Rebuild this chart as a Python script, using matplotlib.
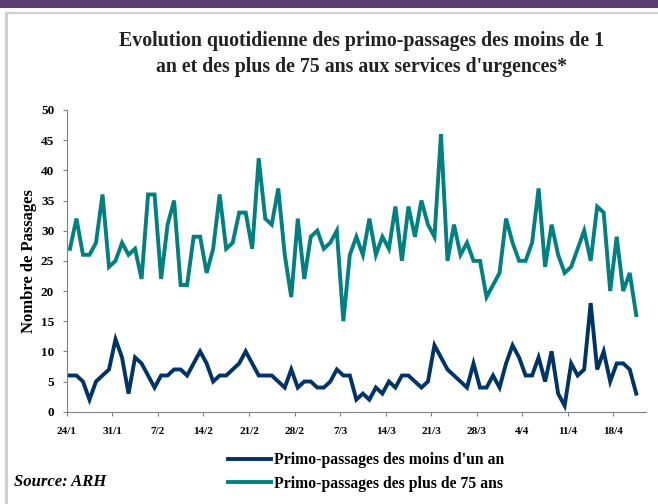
import matplotlib.pyplot as plt
from matplotlib.lines import Line2D
from matplotlib.patches import Rectangle

# jours depuis le 24/1 (88 jours)
moins_1an = [6, 6, 5, 2, 5, 6, 7, 12, 9, 3, 9, 8, 6, 4, 6, 6, 7, 7,
             6, 8, 10, 8, 5, 6, 6, 7, 8, 10, 8, 6, 6, 6, 5, 4, 7, 4,
             5, 5, 4, 4, 5, 7, 6, 6, 2, 3, 2, 4, 3, 5, 4, 6, 6, 5,
             4, 5, 11, 9, 7, 6, 5, 4, 8, 4, 4, 6, 4, 8, 11, 9, 6, 6,
             9, 5, 10, 3, 1, 8, 6, 7, 18, 7, 10, 5, 8, 8, 7, 3]
plus_75ans = [27, 32, 26, 26, 28, 36, 24, 25, 28, 26, 27, 22, 36, 36, 22, 31, 35, 21,
              21, 29, 29, 23, 27, 36, 27, 28, 33, 33, 27, 42, 32, 31, 37, 26, 19, 32,
              22, 29, 30, 27, 28, 30, 15, 26, 29, 26, 32, 26, 29, 27, 34, 25, 34, 29,
              35, 31, 29, 46, 25, 31, 26, 28, 25, 25, 19, 21, 23, 32, 28, 25, 25, 28,
              37, 24, 31, 26, 23, 24, 27, 30, 25, 34, 33, 20, 29, 20, 23, 16]
etiquettes = ['24/1', '31/1', '7/2', '14/2', '21/2', '28/2', '7/3', '14/3',
              '21/3', '28/3', '4/4', '11/4', '18/4']

bleu = '#003366'
vert = '#008080'
gris = '#808080'
serif = ['Liberation Serif', 'DejaVu Serif']

fig = plt.figure(figsize=(6.58, 5.04), dpi=100)

# bandeau violet et cadre
fig.patches.append(Rectangle((0, 1 - 8 / 504), 1, 8 / 504, transform=fig.transFigure,
                             facecolor='#5B3F73', edgecolor='none'))
fig.add_artist(Line2D([6 / 658, 6 / 658], [0, 1 - 13 / 504], color='#CFCFCF', lw=2.2))
fig.add_artist(Line2D([6 / 658, 1], [1 - 13 / 504, 1 - 13 / 504], color='#CFCFCF', lw=1.5))

ax = fig.add_axes([66.7 / 658, 1 - 411.7 / 504, (646 - 66.7) / 658, (411.7 - 110) / 504])
jours = list(range(len(moins_1an)))
ax.plot(jours, moins_1an, color=bleu, lw=2.8, solid_joinstyle='miter',
        label="Primo-passages des moins d'un an")
ax.plot(jours, plus_75ans, color=vert, lw=2.8, solid_joinstyle='miter',
        label='Primo-passages des plus de 75 ans')

ax.set_xlim(-0.5, 88.5)
ax.set_ylim(0, 50)
ax.set_yticks(range(0, 51, 5))
ax.set_xticks([7 * i - 0.5 for i in range(len(etiquettes))])
ax.set_xticklabels(etiquettes)
for s in ['top', 'right']:
    ax.spines[s].set_visible(False)
for s in ['left', 'bottom']:
    ax.spines[s].set_color(gris)
ax.tick_params(colors=gris, length=3, labelcolor='black')
ax.tick_params(axis='x', pad=8, labelsize=8)
ax.tick_params(axis='y', pad=6, labelsize=9.5)
for t in ax.get_xticklabels() + ax.get_yticklabels():
    t.set_family(serif)
    t.set_weight('bold')

ax.set_ylabel('Nombre de Passages', family=serif, weight='bold', fontsize=12, labelpad=3)

fig.text(362 / 658, 1 - 54 / 504,
         "Evolution quotidienne des primo-passages des moins de 1\n"
         "an et des plus de 75 ans aux services d'urgences*",
         ha='center', va='center', family=serif, weight='bold', fontsize=14.3,
         linespacing=1.4, color='#222222')

leg = fig.legend(loc='upper left', bbox_to_anchor=(214 / 658, 1 - 438 / 504), frameon=False,
                 prop={'family': serif, 'weight': 'bold', 'size': 11.3},
                 handlelength=2.75, handletextpad=0.15, labelspacing=0.5)

fig.text(14 / 658, 1 - 482 / 504, 'Source: ARH', family=serif, weight='bold', style='italic',
         fontsize=12, va='center')

fig.savefig('out.png', dpi=100)
